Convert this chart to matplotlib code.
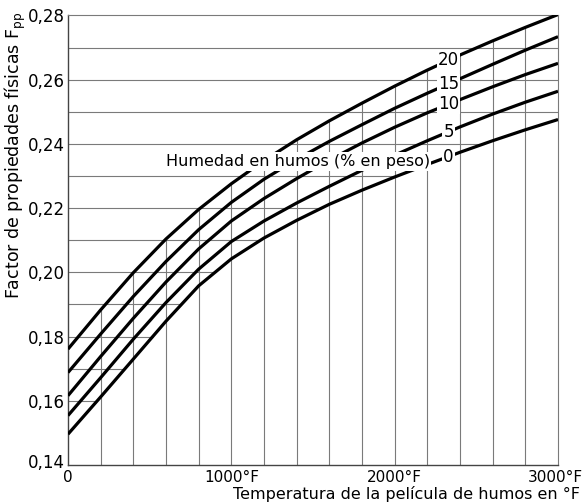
import numpy as np
import matplotlib.pyplot as plt
from matplotlib.transforms import ScaledTranslation

# Temperatura de la película de humos (°F)
temp_f = [0, 200, 400, 600, 800, 1000, 1200, 1400, 1600,
          1800, 2000, 2200, 2400, 2600, 2800, 3000]

# Factor de propiedades físicas Fpp para cada humedad (% en peso)
fpp_h0 = [0.1496, 0.1612, 0.1730, 0.1848, 0.1958, 0.2042, 0.2107, 0.2162,
          0.2212, 0.2256, 0.2297, 0.2336, 0.2374, 0.2410, 0.2444, 0.2476]
fpp_h5 = [0.1554, 0.1672, 0.1792, 0.1906, 0.2010, 0.2096, 0.2160, 0.2216,
          0.2268, 0.2318, 0.2365, 0.2410, 0.2453, 0.2493, 0.2530, 0.2564]
fpp_h10 = [0.1616, 0.1738, 0.1857, 0.1970, 0.2073, 0.2160, 0.2230, 0.2292,
           0.2350, 0.2403, 0.2452, 0.2497, 0.2538, 0.2578, 0.2616, 0.2651]
fpp_h15 = [0.1688, 0.1808, 0.1925, 0.2034, 0.2133, 0.2218, 0.2290, 0.2352,
           0.2408, 0.2460, 0.2511, 0.2558, 0.2603, 0.2648, 0.2692, 0.2734]
fpp_h20 = [0.1761, 0.1883, 0.1999, 0.2104, 0.2196, 0.2276, 0.2348, 0.2413,
           0.2472, 0.2527, 0.2580, 0.2630, 0.2677, 0.2721, 0.2763, 0.2803]

humedad_labels = ["0", "5", "10", "15", "20"]
curves = [fpp_h0, fpp_h5, fpp_h10, fpp_h15, fpp_h20]

y_ticks = [0.14, 0.16, 0.18, 0.20, 0.22, 0.24, 0.26, 0.28]
y_tick_labels = ["0,14", "0,16", "0,18", "0,20", "0,22", "0,24", "0,26", "0,28"]
x_ticks = [0, 1000, 2000, 3000]
x_tick_labels = ["0", "1000°F", "2000°F", "3000°F"]
y_grid = [0.15, 0.16, 0.17, 0.18, 0.19, 0.20, 0.21, 0.22, 0.23, 0.24,
          0.25, 0.26, 0.27]

grid_c = "#7a7a7a"

fig = plt.figure(figsize=(5.84, 5.04), dpi=100)
ax = fig.add_axes([68 / 584, 39 / 504, 490 / 584, 449.5 / 504])
ax.set_xlim(0, 3000)
ax.set_ylim(0.14, 0.28)

# la cuadrícula solo cubre la zona de las curvas:
# horizontales hasta la curva de 0 %, verticales hasta la de 20 %
t = np.array(temp_f, dtype=float)
c_low = np.array(fpp_h0)
c_high = np.array(fpp_h20)
for y in y_grid:
    x_end = np.interp(y, c_low, t) if y <= c_low.max() else 3000
    ax.hlines(y, 0, x_end, color=grid_c, lw=0.8, zorder=1)
for x in temp_f[1:-1]:
    ax.vlines(x, 0.14, np.interp(x, t, c_high), color=grid_c, lw=0.8, zorder=1)

for c in curves:
    ax.plot(temp_f, c, color="black", lw=2.3, solid_joinstyle="round",
            solid_capstyle="butt", zorder=3)

# etiquetas de humedad sobre cada curva
label_t = 2330
for lab, c in zip(humedad_labels, curves):
    ax.text(label_t, np.interp(label_t, t, c), lab, ha="center", va="center",
            fontsize=12, zorder=5,
            bbox=dict(facecolor="white", edgecolor="none", pad=0.8))

ax.text(2215, 0.2345, "Humedad en humos (% en peso)", ha="right", va="center",
        fontsize=11.5, zorder=5,
        bbox=dict(facecolor="white", edgecolor="none", pad=1.2))

for side in ["left", "bottom"]:
    ax.spines[side].set_color("#444444")
    ax.spines[side].set_linewidth(1.0)
for side in ["top", "right"]:
    ax.spines[side].set_color(grid_c)
    ax.spines[side].set_linewidth(0.8)

ax.set_yticks(y_ticks)
ax.set_yticklabels(y_tick_labels, fontsize=12)
ax.set_xticks(x_ticks)
ax.set_xticklabels(x_tick_labels, fontsize=11)
ax.tick_params(axis="y", length=0, pad=2)
ax.tick_params(axis="x", length=0, pad=3.5)

# rótulos de las esquinas: 0,14 algo más arriba, 3000°F dentro del borde
first_y = ax.get_yticklabels()[0]
first_y.set_transform(first_y.get_transform() + ScaledTranslation(0, 4 / 100, fig.dpi_scale_trans))
last_x = ax.get_xticklabels()[-1]
last_x.set_transform(last_x.get_transform() + ScaledTranslation(-3 / 100, 0, fig.dpi_scale_trans))

fig.text(15 / 584, 1 - 155 / 504, "Factor de propiedades físicas F$_\\mathregular{pp}$",
         rotation=90, ha="center", va="center", fontsize=12.5)
fig.text(580 / 584, 1 - 494 / 504, "Temperatura de la película de humos en °F",
         ha="right", va="center", fontsize=11.5)

fig.savefig("out.png", dpi=100)
